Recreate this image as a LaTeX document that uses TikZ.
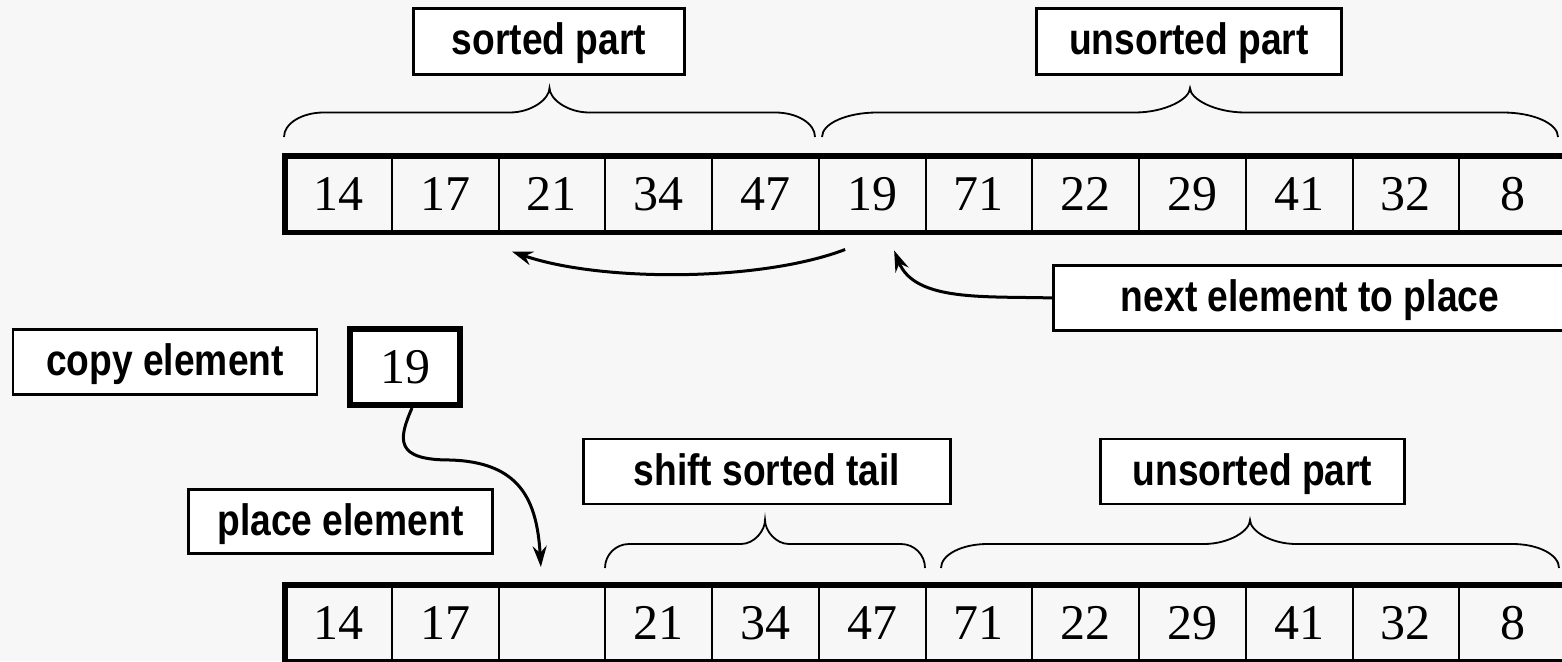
\documentclass[tikz,border=0pt]{standalone}
\usepackage{fontspec}
\setmainfont{Liberation Serif}
\newfontfamily\labelfont[FakeStretch=0.845]{Liberation Sans}
\usetikzlibrary{arrows.meta}
\definecolor{bgc}{RGB}{247,247,247}
\tikzset{
  cell/.style={minimum width=106.75pt, minimum height=76.5pt, inner sep=0pt, outer sep=0pt, font=\fontsize{50}{60}\selectfont},
  arrayframe/.style={line width=5.5pt},
  divider/.style={line width=2pt},
  lbl/.style={draw, fill=white, line width=2.2pt, inner sep=0pt, outer sep=0pt, text height=32pt, text depth=5pt, font=\labelfont\bfseries\fontsize{44}{52}\selectfont},
  valbox/.style={draw, fill=white, line width=6pt, inner sep=0pt, outer sep=0pt, minimum width=110pt, minimum height=76pt, font=\fontsize{50}{60}\selectfont},
  bracestyle/.style={line width=1.8pt},
  arr/.style={line width=3pt, -{Stealth[length=21pt,width=14pt,inset=7pt]}},
}
\newcommand{\mybrace}[4]{%
  \pgfmathsetmacro\brxm{(#1+#2)/2}%
  \pgfmathsetmacro\brym{(#3+#4)/2}%
  \pgfmathsetmacro\brh{(#3-#4)/2}%
  \pgfmathsetmacro\brw{0.075*(#2-#1)}%
  \pgfmathsetmacro\brA{#1+\brw}%
  \pgfmathsetmacro\brAc{#1+0.448*\brw}%
  \pgfmathsetmacro\brB{\brxm-\brw}%
  \pgfmathsetmacro\brBc{\brxm-0.448*\brw}%
  \pgfmathsetmacro\brC{\brxm+\brw}%
  \pgfmathsetmacro\brCc{\brxm+0.448*\brw}%
  \pgfmathsetmacro\brD{#2-\brw}%
  \pgfmathsetmacro\brDc{#2-0.448*\brw}%
  \pgfmathsetmacro\brlo{#3-0.552*\brh}%
  \pgfmathsetmacro\brhi{\brym-0.552*\brh}%
  \draw[bracestyle] (#1,#3) .. controls (#1,\brlo) and (\brAc,\brym) .. (\brA,\brym)
    -- (\brB,\brym) .. controls (\brBc,\brym) and (\brxm,\brhi) .. (\brxm,#4)
    .. controls (\brxm,\brhi) and (\brCc,\brym) .. (\brC,\brym)
    -- (\brD,\brym) .. controls (\brDc,\brym) and (#2,\brlo) .. (#2,#3);
}
\begin{document}
\begin{tikzpicture}[x=1pt,y=-1pt]
\useasboundingbox (0,0) rectangle (1562,661);
\clip (0,0) rectangle (1562,661);
\fill[bgc] (0,0) rectangle (1562,661);

% top array
\foreach \v [count=\i] in {14,17,21,34,47,19,71,22,29,41,32,8}
  \node[cell] (t\i) at ({285+106.75*(\i-0.5)},194.25) {\v};
\foreach \i in {1,...,11}
  \draw[divider] (t\i.north east) -- (t\i.south east);
\draw[arrayframe] (t1.north west) rectangle (t12.south east);

% bottom array
\foreach \v [count=\i] in {14,17,{},21,34,47,71,22,29,41,32,8}
  \node[cell] (b\i) at ({285+106.75*(\i-0.5)},623.25) {\v};
\foreach \i in {1,...,11}
  \draw[divider] (b\i.north east) -- (b\i.south east);
\draw[arrayframe] (b1.north west) rectangle (b12.south east);

% labels
\node[lbl, minimum width=271pt, minimum height=66pt] (sorted) at (549,41.5) {sorted part};
\node[lbl, minimum width=305pt, minimum height=66pt] (unsortedtop) at (1189,41.5) {unsorted part};
\node[lbl, minimum width=513pt, minimum height=65pt] (next) at (1310,298) {next element to place};
\node[lbl, minimum width=304pt, minimum height=65pt] (copy) at (165,362) {copy element};
\node[valbox] (c19) at (405,367) {19};
\node[lbl, minimum width=304pt, minimum height=64pt] (place) at (340.5,521.5) {place element};
\node[lbl, minimum width=367pt, minimum height=65pt] (shift) at (767,471.5) {shift sorted tail};
\node[lbl, minimum width=304pt, minimum height=65pt] (unsortedbot) at (1252.5,471.5) {unsorted part};

% braces
\mybrace{284}{815}{137}{88}
\mybrace{822}{1558}{137}{88}
\mybrace{605}{925}{568}{520}
\mybrace{941}{1559}{568}{520}

% arrows
\draw[arr] ([shift={(-27,17)}]t6.south) .. controls (760,282) and (600,282) .. ([shift={(-40,19)}]t3.south);
\draw[arr] (next.west) .. controls (985,296) and (915,302) .. ([shift={(22,18)}]t6.south);
\draw[arr] ([shift={(7,3)}]c19.south) .. controls (398,440) and (395,460) .. (450,460)
  .. controls (520,462) and (537,500) .. ([shift={(-11,-18)}]b3.north);
\end{tikzpicture}
\end{document}
